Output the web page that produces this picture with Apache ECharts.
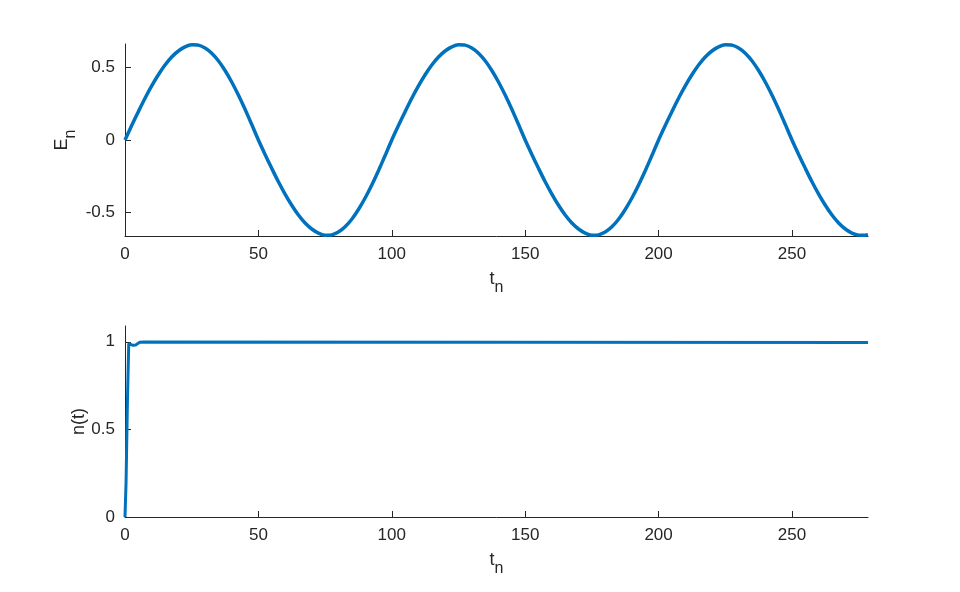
<!DOCTYPE html>
<html>
<head>
<meta charset="utf-8">
<script src="https://cdn.jsdelivr.net/npm/echarts@6/dist/echarts.min.js"></script>
<style>
    html, body { margin: 0; padding: 0; background: #fff; }
    #chart { width: 960px; height: 592px; }
</style>
</head>
<body>
<div id="chart"></div>
<script>
    // E_n over t_n (every 2.5 units)
    const tE = [
        0, 2.5, 5, 7.5, 10, 12.5, 15, 17.5, 20, 22.5, 25, 27.5, 30, 32.5, 35, 37.5, 40, 42.5, 45, 47.5,
        50, 52.5, 55, 57.5, 60, 62.5, 65, 67.5, 70, 72.5, 75, 77.5, 80, 82.5, 85, 87.5, 90, 92.5, 95, 97.5,
        100, 102.5, 105, 107.5, 110, 112.5, 115, 117.5, 120, 122.5, 125, 127.5, 130, 132.5, 135, 137.5, 140, 142.5, 145, 147.5,
        150, 152.5, 155, 157.5, 160, 162.5, 165, 167.5, 170, 172.5, 175, 177.5, 180, 182.5, 185, 187.5, 190, 192.5, 195, 197.5,
        200, 202.5, 205, 207.5, 210, 212.5, 215, 217.5, 220, 222.5, 225, 227.5, 230, 232.5, 235, 237.5, 240, 242.5, 245, 247.5,
        250, 252.5, 255, 257.5, 260, 262.5, 265, 267.5, 270, 272.5, 275, 277.5, 278.5
    ];
    const eVals = [
        0, 0.099, 0.195, 0.287, 0.372, 0.449, 0.516, 0.571, 0.612, 0.640, 0.654, 0.652, 0.633, 0.597, 0.545, 0.478, 0.399, 0.309, 0.211, 0.107,
        0, -0.099, -0.195, -0.287, -0.372, -0.449, -0.516, -0.571, -0.612, -0.640, -0.654, -0.652, -0.633, -0.597, -0.545, -0.478, -0.399, -0.309, -0.211, -0.107,
        0, 0.099, 0.195, 0.287, 0.372, 0.449, 0.516, 0.571, 0.612, 0.640, 0.654, 0.652, 0.633, 0.597, 0.545, 0.478, 0.399, 0.309, 0.211, 0.107,
        0, -0.099, -0.195, -0.287, -0.372, -0.449, -0.516, -0.571, -0.612, -0.640, -0.654, -0.652, -0.633, -0.597, -0.545, -0.478, -0.399, -0.309, -0.211, -0.107,
        0, 0.099, 0.195, 0.287, 0.372, 0.449, 0.516, 0.571, 0.612, 0.640, 0.654, 0.652, 0.633, 0.597, 0.545, 0.478, 0.399, 0.309, 0.211, 0.107,
        0, -0.099, -0.195, -0.287, -0.372, -0.449, -0.516, -0.571, -0.612, -0.640, -0.654, -0.655, -0.652
    ];

    // n(t) over t_n (bottom panel)
    const tN = [0, 0.4, 0.9, 1.4, 2, 3, 4, 5.5, 7, 278.5];
    const nVals = [0, 0.2, 0.65, 0.99, 0.985, 0.98, 0.982, 0.997, 0.998, 0.996];

    // tick labels
    const xTicks = [0, 50, 100, 150, 200, 250];
    const eTicks = [-0.5, 0, 0.5];
    const nTicks = [0, 0.5, 1];

    const axisColor = '#262626';
    const font = 'Liberation Sans, Arial, Helvetica, sans-serif';

    const subName = (main, sub) => ({
        text: '{a|' + main + '}{b|' + sub + '}',
        rich: {
            a: {fontSize: 18, color: axisColor, fontFamily: font},
            b: {fontSize: 16, color: axisColor, fontFamily: font, padding: [18, 0, 0, 0]}
        }
    });

    function xAxis(gridIndex) {
        const nm = subName('t', 'n');
        return {
            type: 'value',
            gridIndex: gridIndex,
            min: 0,
            max: 278.5,
            name: nm.text,
            nameLocation: 'middle',
            nameGap: 26,
            nameMoveOverlap: false,
            nameTextStyle: {rich: nm.rich},
            axisLine: {show: true, onZero: false, lineStyle: {color: axisColor, width: 1}},
            axisTick: {show: true, inside: true, length: 6, customValues: xTicks, lineStyle: {color: axisColor}},
            axisLabel: {customValues: xTicks, color: axisColor, fontSize: 17, fontFamily: font, margin: 10},
            splitLine: {show: false}
        };
    }

    function yAxis(gridIndex, min, max, ticks, name, gap) {
        return {
            type: 'value',
            gridIndex: gridIndex,
            min: min,
            max: max,
            name: name.text,
            nameLocation: 'middle',
            nameRotate: 90,
            nameGap: gap,
            nameMoveOverlap: false,
            nameTextStyle: name.rich ? {rich: name.rich} : {color: axisColor, fontSize: 18, fontFamily: font},
            axisLine: {show: true, onZero: false, lineStyle: {color: axisColor, width: 1}},
            axisTick: {show: true, inside: true, length: 6, customValues: ticks, lineStyle: {color: axisColor}},
            axisLabel: {customValues: ticks, color: axisColor, fontSize: 17, fontFamily: font, margin: 10},
            splitLine: {show: false}
        };
    }

    let myChart = echarts.init(document.getElementById('chart'));
    let option = {
        backgroundColor: '#fff',
        animation: false,
        grid: [
            {left: 125, right: 92, top: 44, height: 192},
            {left: 125, right: 92, top: 326, height: 191}
        ],
        xAxis: [xAxis(0), xAxis(1)],
        yAxis: [
            yAxis(0, -0.66, 0.66, eTicks, subName('E', 'n'), 46),
            yAxis(1, 0, 1.09, nTicks, {text: 'n(t)'}, 37)
        ],
        series: [
            {
                type: 'line',
                xAxisIndex: 0,
                yAxisIndex: 0,
                data: tE.map((t, i) => [t, eVals[i]]),
                smooth: 0.2,
                showSymbol: false,
                lineStyle: {color: '#0072BD', width: 3.5}
            },
            {
                type: 'line',
                xAxisIndex: 1,
                yAxisIndex: 1,
                data: tN.map((t, i) => [t, nVals[i]]),
                showSymbol: false,
                lineStyle: {color: '#0072BD', width: 3}
            }
        ]
    };
    myChart.setOption(option);
</script>
</body>
</html>
